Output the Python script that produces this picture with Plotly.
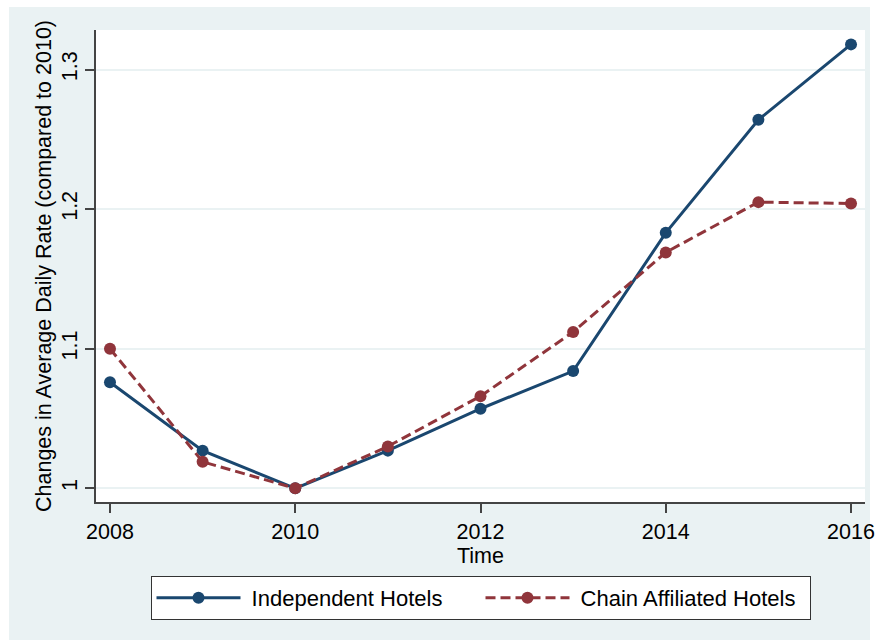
import plotly.graph_objects as go

years = [2008, 2009, 2010, 2011, 2012, 2013, 2014, 2015, 2016]
independent = [1.076, 1.027, 1.000, 1.027, 1.057, 1.084, 1.183, 1.264, 1.318]
chain = [1.100, 1.019, 1.000, 1.030, 1.066, 1.112, 1.169, 1.205, 1.204]
x_ticks = [2008, 2010, 2012, 2014, 2016]
y_ticks = [1.0, 1.1, 1.2, 1.3]
y_tick_labels = ["1", "1.1", "1.2", "1.3"]

BLUE = "#1A476F"
RED = "#90353B"
BG = "#EAF2F3"
FONT = "Liberation Sans, Arial, sans-serif"
NB = "\u00a0"

fig = go.Figure()
fig.add_trace(go.Scatter(
    x=years, y=independent, mode="lines+markers", name=NB + "Independent Hotels",
    line=dict(color=BLUE, width=3), marker=dict(color=BLUE, size=12),
))
fig.add_trace(go.Scatter(
    x=years, y=chain, mode="lines+markers", name=NB + "Chain Affiliated Hotels",
    line=dict(color=RED, width=3, dash="10px,5px"), marker=dict(color=RED, size=12),
))

W, H = 877, 641
L, R, T, B = 96, 12, 30, 139
pw, ph = W - L - R, H - T - B
gx0, gx1, gy0, gy1 = 9, 870, 7, 640
fig.add_shape(type="rect", xref="paper", yref="paper", layer="below",
              x0=(gx0 - L) / pw, x1=(gx1 - L) / pw,
              y0=(H - B - gy1) / ph, y1=(H - B - gy0) / ph,
              fillcolor=BG, line=dict(width=0))
fig.add_shape(type="rect", xref="paper", yref="paper", layer="below",
              x0=0, x1=1, y0=0, y1=1, fillcolor="white", line=dict(width=0))

fig.update_layout(
    width=W, height=H,
    margin=dict(l=L, r=R, t=T, b=B, pad=0),
    paper_bgcolor="white", plot_bgcolor="white",
    font=dict(family=FONT, size=21.5, color="black"),
    showlegend=True,
    legend=dict(orientation="h", x=0.5, xanchor="center", y=-74 / ph, yanchor="top",
                bgcolor="white", bordercolor="#333333", borderwidth=1,
                itemwidth=84, entrywidth=230, font=dict(size=22, family=FONT)),
    xaxis=dict(range=[2007.849, 2016.151], tickvals=x_ticks, showgrid=False,
               zeroline=False, showline=True, linecolor="#444444", linewidth=1.5,
               ticks="outside", ticklen=9, tickcolor="#444444", tickwidth=1.5,
               automargin=False,
               title=dict(text="Time", standoff=0, font=dict(size=21.5))),
    yaxis=dict(range=[0.9902, 1.3283], tickvals=y_ticks, ticktext=y_tick_labels,
               tickangle=-90, showgrid=True, gridcolor=BG, gridwidth=2,
               zeroline=False, showline=True, linecolor="#444444", linewidth=1.5,
               ticks="outside", ticklen=9, tickcolor="#444444", tickwidth=1.5,
               automargin=False,
               title=dict(text="Changes in Average Daily Rate (compared to 2010)",
                          standoff=0, font=dict(size=21.5))),
)

fig.write_html("out.html", config={"displayModeBar": False},
               post_script="document.body.style.margin='0px';")
